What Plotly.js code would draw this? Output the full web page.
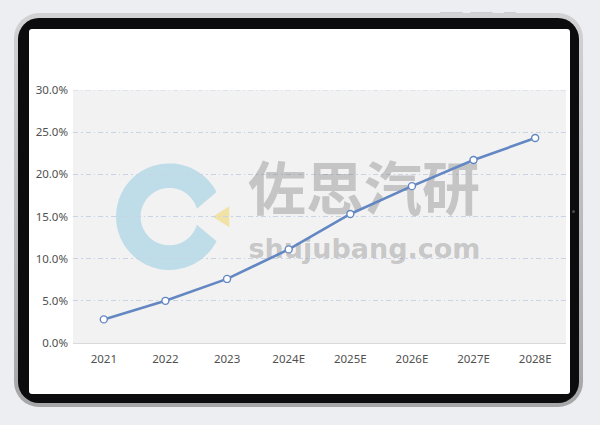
<!DOCTYPE html>
<html>
<head>
<meta charset="utf-8">
<script src="https://cdn.plot.ly/plotly-3.0.1.min.js"></script>
<style>
  html,body{margin:0;padding:0;width:600px;height:425px;overflow:hidden;background:#eceef2;}
  .abs{position:absolute;}
  #outer{left:14px;top:13px;width:569px;height:394px;border-radius:25px;background:linear-gradient(180deg,#d2d2d4,#a6a6a8);}
  #bezel{left:18px;top:17.5px;width:561px;height:385.5px;border-radius:21px;background:#0c0c0e;}
  #screen{left:28.5px;top:29px;width:541px;height:364.5px;border-radius:3px;background:#ffffff;}
  .btn{top:11.5px;height:2px;border-radius:1px;background:#cdced1;}
  #cam{left:572px;top:209.5px;width:3px;height:3px;border-radius:50%;background:#4a4a4e;}
  #chart{left:0;top:0;width:600px;height:425px;}
</style>
</head>
<body>
<div class="abs btn" style="left:440px;width:23px;"></div>
<div class="abs btn" style="left:470px;width:23px;"></div>
<div class="abs btn" style="left:504px;width:12px;"></div>
<div class="abs" id="outer"></div>
<div class="abs" id="bezel"></div>
<div class="abs" id="screen"></div>
<div class="abs" id="cam"></div>
<div class="abs" id="chart"></div>
<script>
// ---- data ----
const categories = ["2021", "2022", "2023", "2024E", "2025E", "2026E", "2027E", "2028E"];
const values = [2.8, 5.0, 7.6, 11.1, 15.3, 18.6, 21.7, 24.3];
const yTicks = [0, 5, 10, 15, 20, 25, 30];
const watermarkCN = "佐思汽研";
const watermarkEN = "shujubang.com";

const idx = categories.map((c, i) => i);

// donut logo path (pixel units relative to anchor)
function arcPts(r, a0, a1, n) {
  const pts = [];
  for (let k = 0; k <= n; k++) {
    const a = (a0 + (a1 - a0) * k / n) * Math.PI / 180;
    pts.push([r * Math.cos(a), r * Math.sin(a)]);
  }
  return pts;
}
const outerPts = arcPts(53.3, 27.5, 332.5, 80);
const innerPts = arcPts(28.7, 343.8, 16.2, 60);
let donutPath = "M" + outerPts.map(p => p[0].toFixed(2) + "," + p[1].toFixed(2)).join(" L");
donutPath += " L" + innerPts.map(p => p[0].toFixed(2) + "," + p[1].toFixed(2)).join(" L") + " Z";
const triPath = "M43.4,0 L60,10.5 L60,-10.5 Z";

const logoX = 1.063, logoY = 14.98;
const gridDash = "5px,3px,1.5px,3px";

const traces = [
  {
    x: [4.222], y: [17.45], mode: "text", text: [watermarkCN],
    textfont: {family: "Noto Sans CJK SC", size: 58, color: "rgba(120,120,120,0.37)", weight: 700},
    textposition: "middle center", hoverinfo: "skip", showlegend: false, cliponaxis: false
  },
  {
    x: [4.23], y: [10.85], mode: "text", text: [watermarkEN],
    textfont: {family: "DejaVu Sans", size: 27, color: "rgba(120,120,120,0.37)", weight: 700},
    textposition: "middle center", hoverinfo: "skip", showlegend: false, cliponaxis: false
  },
  {
    x: idx, y: values, mode: "lines+markers", type: "scatter",
    line: {color: "#6387c2", width: 2.6},
    marker: {size: 7, color: "#ffffff", line: {color: "#6387c2", width: 1.4}},
    showlegend: false, cliponaxis: false
  }
];

const layout = {
  width: 600, height: 425,
  margin: {l: 73, r: 34, t: 90, b: 82},
  paper_bgcolor: "rgba(0,0,0,0)",
  plot_bgcolor: "#f2f2f2",
  font: {family: "Noto Sans", size: 11, color: "#555555"},
  showlegend: false,
  xaxis: {
    type: "linear", range: [-0.5, 7.5], tickvals: idx, ticktext: categories,
    showgrid: false, zeroline: false, showline: true, linecolor: "#d9d9d9", linewidth: 1,
    ticks: "", ticklabelstandoff: 5, fixedrange: true, tickfont: {size: 11.5, color: "#505050"}
  },
  yaxis: {
    range: [0, 30], tickvals: yTicks, ticktext: yTicks.map(v => v.toFixed(1) + "%"),
    showgrid: true, gridcolor: "#c8d4e6", gridwidth: 1, griddash: gridDash,
    zeroline: false, showline: false, ticks: "", ticklabelstandoff: 4, fixedrange: true,
    tickfont: {size: 11.5, color: "#505050"}
  },
  shapes: [
    {type: "path", xref: "x", yref: "y", xsizemode: "pixel", ysizemode: "pixel",
     xanchor: logoX, yanchor: logoY, path: donutPath,
     fillcolor: "#bfdde9", line: {width: 0}, layer: "below"},
    {type: "path", xref: "x", yref: "y", xsizemode: "pixel", ysizemode: "pixel",
     xanchor: logoX, yanchor: logoY, path: triPath,
     fillcolor: "#f1e3a6", line: {width: 0}, layer: "below"},
    {type: "line", xref: "paper", yref: "y", x0: 0, x1: 1, y0: yTicks[yTicks.length - 1], y1: yTicks[yTicks.length - 1],
     line: {color: "#c8d4e6", width: 1, dash: gridDash}, layer: "below"}
  ]
};

Plotly.newPlot("chart", traces, layout, {displayModeBar: false, staticPlot: true});
</script>
</body>
</html>
